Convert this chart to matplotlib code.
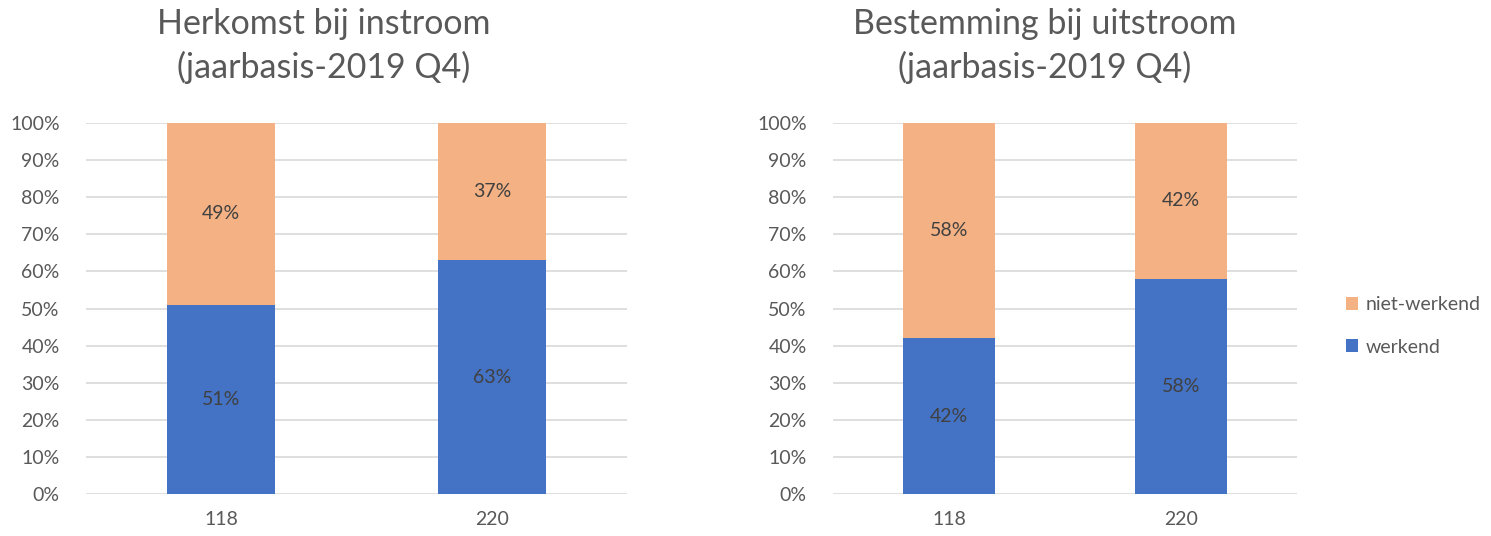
import matplotlib
matplotlib.use("Agg")
import matplotlib.pyplot as plt
from matplotlib.ticker import PercentFormatter

plt.rcParams['font.family'] = ['Lato', 'DejaVu Sans']

categories = ["118", "220"]
in_werkend = [51, 63]
in_niet = [49, 37]
uit_werkend = [42, 58]
uit_niet = [58, 42]

blue = "#4472C4"
orange = "#F4B183"
grey = "#595959"
dark = "#404040"

fig = plt.figure(figsize=(14.91, 5.36), dpi=100)
ax1 = fig.add_axes([86 / 1491, 1 - 494 / 536, 541 / 1491, 371 / 536])
ax2 = fig.add_axes([833 / 1491, 1 - 494 / 536, 464 / 1491, 371 / 536])


def draw(ax, werkend, niet):
    x = range(len(categories))
    b1 = ax.bar(x, werkend, width=0.4, color=blue, label="werkend", zorder=2)
    b2 = ax.bar(x, niet, width=0.4, bottom=werkend, color=orange,
                label="niet-werkend", zorder=2)
    for i in x:
        ax.text(i, werkend[i] / 2, f"{werkend[i]}%", ha="center", va="center",
                fontsize=14, color=dark)
        ax.text(i, werkend[i] + niet[i] / 2, f"{niet[i]}%", ha="center",
                va="center", fontsize=14, color=dark)
    ax.set_xlim(-0.5, 1.5)
    ax.set_ylim(0, 100)
    ax.set_yticks(range(0, 101, 10))
    ax.yaxis.set_major_formatter(PercentFormatter(decimals=0))
    ax.set_xticks(list(x))
    ax.set_xticklabels(categories)
    ax.grid(axis="y", color="#D9D9D9", linewidth=1.2, zorder=0)
    for s in ax.spines.values():
        s.set_visible(False)
    ax.tick_params(length=0, labelsize=14, labelcolor=grey)
    ax.tick_params(axis="y", pad=19)
    ax.tick_params(axis="x", pad=12)
    return b1, b2


draw(ax1, in_werkend, in_niet)
b1, b2 = draw(ax2, uit_werkend, uit_niet)

fig.text(324 / 1491, 1 - 46 / 536, "Herkomst bij instroom\n(jaarbasis-2019 Q4)",
         ha="center", va="center", fontsize=24.5, color=grey, linespacing=1.38)
fig.text(1045 / 1491, 1 - 46 / 536, "Bestemming bij uitstroom\n(jaarbasis-2019 Q4)",
         ha="center", va="center", fontsize=24.5, color=grey, linespacing=1.38)

fig.legend([b2, b1], ["niet-werkend", "werkend"], loc="center left",
           bbox_to_anchor=(1328 / 1491, 1 - 326 / 536), frameon=False,
           fontsize=14, labelcolor=grey, handlelength=0.65, handleheight=0.65,
           handletextpad=0.4, labelspacing=1.3)

fig.savefig("out.png", dpi=100)
